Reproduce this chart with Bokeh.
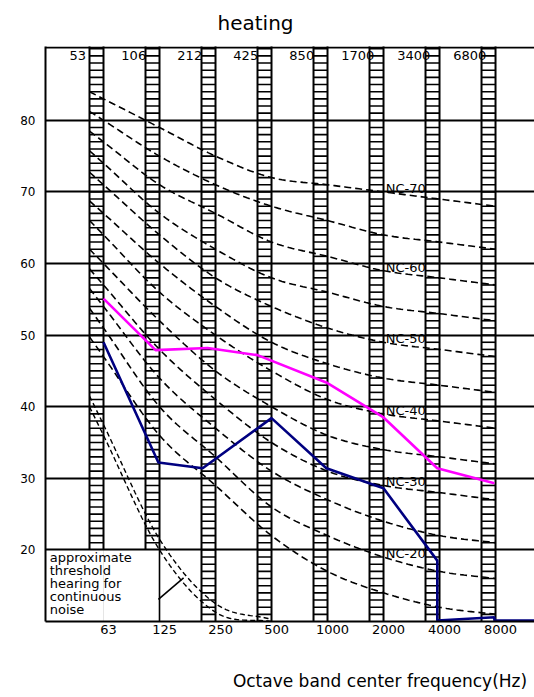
import numpy as np
from bokeh.plotting import figure
from bokeh.models import (Range1d, FixedTicker, CustomJSTickFormatter,
                          LinearAxis, Grid)
from bokeh.core.properties import value
from bokeh.embed import file_html
from bokeh.resources import INLINE

# ---------------- data ----------------
bands = ["63", "125", "250", "500", "1000", "2000", "4000", "8000"]
band_limits = ["53", "106", "212", "425", "850", "1700", "3400", "6800"]
y_ticks = [20, 30, 40, 50, 60, 70, 80]
x_title = "Octave band center frequency(Hz)"

nc_15 = [47, 36, 29, 22, 17, 14, 12, 11]
nc_20 = [51, 40, 33, 26, 22, 19, 17, 16]
nc_25 = [54, 44, 37, 31, 27, 24, 22, 21]
nc_30 = [57, 48, 41, 35, 31, 29, 28, 27]
nc_35 = [60, 52, 45, 40, 36, 34, 33, 32]
nc_40 = [64, 56, 50, 45, 41, 39, 38, 37]
nc_45 = [67, 60, 54, 49, 46, 44, 43, 42]
nc_50 = [71, 64, 58, 54, 51, 49, 48, 47]
nc_55 = [74, 67, 62, 58, 56, 54, 53, 52]
nc_60 = [77, 71, 67, 63, 61, 59, 58, 57]
nc_65 = [80, 75, 71, 68, 66, 64, 63, 62]
nc_70 = [83, 79, 75, 72, 71, 70, 69, 68]
nc_curves = [nc_15, nc_20, nc_25, nc_30, nc_35, nc_40,
             nc_45, nc_50, nc_55, nc_60, nc_65, nc_70]
nc_label_text = ["NC-70", "NC-60", "NC-50", "NC-40", "NC-30", "NC-20"]
nc_label_curves = [nc_70, nc_60, nc_50, nc_40, nc_30, nc_20]

threshold_a = [37.5, 21.5, 12.5, 10.3]
threshold_b = [36.0, 20.0, 11.3, 10.0]

magenta_x = [0, 0.93, 1.86, 2.75, 4.0, 5.0, 5.96, 6.98]
magenta_y = [55.1, 47.9, 48.2, 47.2, 43.3, 38.5, 31.4, 29.3]

navy_x = [0, 0.98, 1.77, 3.0, 3.98, 5.0, 5.96, 5.96, 6.98, 6.98, 7.8]
navy_y = [49.0, 32.2, 31.4, 38.4, 31.4, 28.6, 18.5, 10.15, 10.6, 10.15, 10.15]

note_lines = ["approximate", "threshold", "hearing for", "continuous", "noise"]

# ---------------- helpers ----------------
def smooth(xs, ys, n=16):
    P = np.column_stack([np.asarray(xs, float), np.asarray(ys, float)])
    P = np.vstack([2 * P[0] - P[1], P, 2 * P[-1] - P[-2]])
    out = []
    t = np.linspace(0, 1, n, endpoint=False)[:, None]
    for k in range(1, len(P) - 2):
        p0, p1, p2, p3 = P[k - 1], P[k], P[k + 1], P[k + 2]
        seg = 0.5 * ((2 * p1) + (-p0 + p2) * t
                     + (2 * p0 - 5 * p1 + 4 * p2 - p3) * t ** 2
                     + (-p0 + 3 * p1 - 3 * p2 + p3) * t ** 3)
        out.append(seg)
    out.append(P[-2][None, :])
    arr = np.vstack(out)
    return list(arr[:, 0]), list(arr[:, 1])


def curve_with_lead(vals, lead=0.25):
    xs = list(range(len(vals)))
    sx, sy = smooth(xs, vals)
    y0 = vals[0] + lead * (vals[0] - vals[1])
    return [-lead] + sx, [y0] + sy


def bare_axis(ax):
    ax.major_tick_out = 0; ax.major_tick_in = 0
    ax.minor_tick_out = 0; ax.minor_tick_in = 0


FONT = "DejaVu Sans"
Y0, Y1 = 10, 90.31
X0, X1 = -1.0357, 7.696
TOP_LINE = 90.17

p = figure(width=534, height=697,
           x_range=Range1d(X0, X1), y_range=Range1d(Y0, Y1),
           output_backend="svg", toolbar_location=None,
           x_axis_location=None, y_axis_location=None,
           min_border_left=45, min_border_right=0,
           min_border_top=46, min_border_bottom=76)
p.outline_line_color = None
p.background_fill_color = "white"
p.border_fill_color = "white"

# title
p.title.text = "heating"
p.title.align = "left"
p.title.offset = 172
p.title.standoff = 20
p.title.vertical_align = "top"
p.title.text_font = FONT
p.title.text_font_size = "20px"
p.title.text_font_style = "normal"
p.title.text_color = "black"

# grid lines
grid = Grid(dimension=1, ticker=FixedTicker(ticks=y_ticks),
            grid_line_color="black", grid_line_width=1.8)
p.add_layout(grid)

# top border
p.segment(x0=[X0], y0=[TOP_LINE], x1=[X1 + 1], y1=[TOP_LINE], line_color="black", line_width=2)

# ladders
rail_x, rail_y0, rail_y1 = [], [], []
rx0, rx1, ry = [], [], []
ladder_w = 0.25
for i in range(len(bands)):
    bottom = 20 if i < 2 else Y0
    for xx in (i - ladder_w, i):
        rail_x.append(xx); rail_y0.append(bottom); rail_y1.append(Y1 + 1)
    for yy in range(int(bottom) + 1, int(Y1) + 1):
        rx0.append(i - ladder_w); rx1.append(i); ry.append(yy)
p.segment(x0=rx0, y0=ry, x1=rx1, y1=ry, line_color="black", line_width=1.6)
p.segment(x0=rail_x, y0=rail_y0, x1=rail_x, y1=rail_y1, line_color="black", line_width=2)

# NC curves
for vals in nc_curves:
    cx, cy = curve_with_lead(vals)
    p.line(cx, cy, line_color="black", line_width=1.6, line_dash="7 4")

# threshold curves (double dashed)
for vals in (threshold_a, threshold_b):
    cx, cy = curve_with_lead(vals)
    p.line(cx, cy, line_color="black", line_width=1.4, line_dash="5 3")

# note box and pointer
p.segment(x0=[1, 0.98], y0=[Y0, 13.1], x1=[1, 1.43], y1=[20, 16.1],
          line_color="black", line_width=1.6)

# top band-limit labels
p.text(x=[i - 0.46 for i in range(len(band_limits))], y=[89.1] * len(band_limits),
       text=band_limits, text_font=value(FONT), text_font_size=value("13px"),
       text_align="center", text_baseline="middle", text_color="black")

# NC labels
p.text(x=[5.04] * len(nc_label_text), y=[c[5] + 0.5 for c in nc_label_curves],
       text=nc_label_text, text_font=value(FONT), text_font_size=value("13px"),
       text_align="left", text_baseline="middle", text_color="black")

# note text
note_y = [18.87, 17.06, 15.24, 13.56, 11.7]
p.text(x=[-0.96] * len(note_lines), y=note_y, text=note_lines,
       text_font=value(FONT), text_font_size=value("13px"),
       text_align="left", text_baseline="middle", text_color="black")

# data lines
p.line(magenta_x, magenta_y, line_color="#FF00FF", line_width=2.6)
p.line(navy_x, navy_y, line_color="#000080", line_width=2.6)

# axes
left = LinearAxis(ticker=FixedTicker(ticks=y_ticks))
bare_axis(left)
left.axis_line_color = "black"; left.axis_line_width = 2
left.major_label_standoff = 10
left.major_label_text_font = FONT
left.major_label_text_font_size = "12px"
left.major_label_text_color = "black"
p.add_layout(left, "left")

bottom = LinearAxis(ticker=FixedTicker(ticks=[i + 0.09 for i in range(len(bands))]),
                    formatter=CustomJSTickFormatter(args=dict(labels=bands),
                                                    code="return labels[Math.round(tick)];"))
bare_axis(bottom)
bottom.axis_line_color = "black"; bottom.axis_line_width = 2
bottom.major_label_standoff = 3
bottom.major_label_text_font = FONT
bottom.major_label_text_font_size = "13px"
bottom.major_label_text_color = "black"
p.add_layout(bottom, "below")

# x-axis title, placed under the frequency labels at the position used in the source
title_axis = LinearAxis(ticker=FixedTicker(ticks=[4.9375]),
                        formatter=CustomJSTickFormatter(args=dict(t=x_title), code="return t;"))
bare_axis(title_axis)
title_axis.axis_line_color = None
title_axis.major_label_standoff = 34
title_axis.major_label_text_font = FONT
title_axis.major_label_text_font_size = "17px"
title_axis.major_label_text_color = "black"
p.add_layout(title_axis, "below")

open("out.html", "w").write(file_html(p, INLINE))
